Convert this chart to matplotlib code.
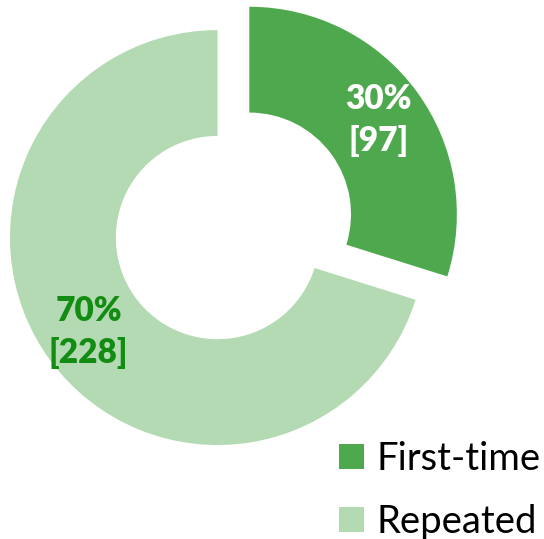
import numpy as np
import matplotlib.pyplot as plt

# Data
labels = ["First-time", "Repeated"]
counts = [97, 228]
percents = ["30%", "70%"]
colors = ["#4EA84E", "#B3DAB3"]
label_colors = ["white", "#138C13"]
explode = [0.19, 0.0]

plt.rcParams['font.family'] = ['Lato', 'DejaVu Sans']

fig = plt.figure(figsize=(5.44, 5.39), dpi=100)
ax = fig.add_axes([0, 0, 1, 1])

wedges, _ = ax.pie(counts, colors=colors, startangle=90, counterclock=False,
                   explode=explode, radius=1.0,
                   wedgeprops=dict(width=0.51, linewidth=0))

# data labels placed along the mid angle of each wedge
for w, pct, n, c, ex in zip(wedges, percents, counts, label_colors, explode):
    mid = np.deg2rad((w.theta1 + w.theta2) / 2)
    r = 0.77 + ex
    ax.text(r * np.cos(mid), r * np.sin(mid), f"{pct}\n[{n}]", color=c,
            ha="center", va="center", fontsize=24, fontweight="heavy",
            linespacing=1.4)

ax.set_xlim(-1.048, 1.573)
ax.set_ylim(-1.453, 1.145)
ax.set_aspect("auto")
ax.axis("off")

ax.legend(wedges, labels, loc="lower left", bbox_to_anchor=(0.567, -0.058),
          frameon=False, fontsize=27.5, handlelength=0.65, handleheight=0.65,
          handletextpad=0.32, labelspacing=0.7, borderpad=0.3)

fig.savefig("out.png", dpi=100)
